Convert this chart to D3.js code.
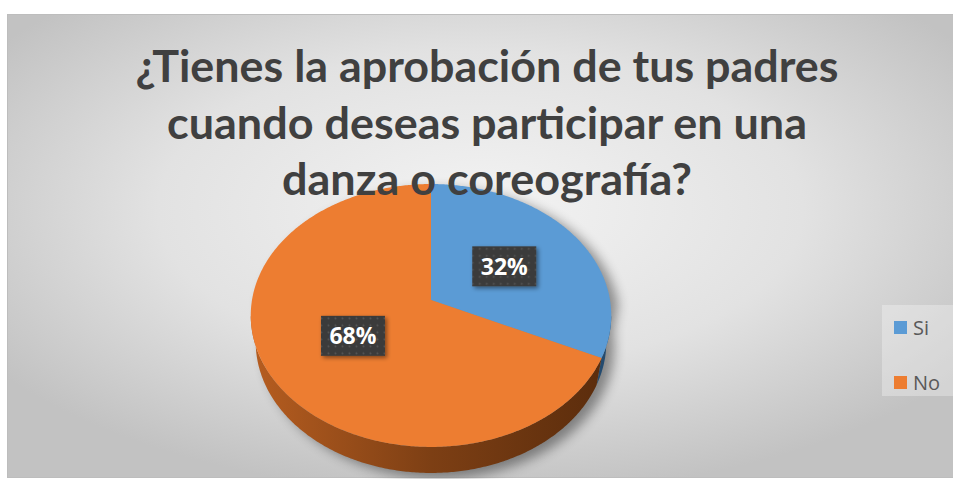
<!DOCTYPE html>
<html>
<head>
<meta charset="utf-8">
<script src="https://cdn.jsdelivr.net/npm/d3@7"></script>
<style>
  body { margin: 0; background: #fff; }
  svg { display: block; }
</style>
</head>
<body>
<div id="chart"></div>
<script>
// data
var labels = ["Si", "No"];
var values = [32, 68];
var colors = ["#5b9bd5", "#ed7d31"];
var wallColors = [["#3d6f9e", "#2c5880", "#234a6e"], ["#b65d20", "#7d3f14", "#5a2c0c"]];
var titleLines = ["¿Tienes la aprobación de tus padres", "cuando deseas participar en una", "danza o coreografía?"];
var titleWidths = [703, 640, 410];

var width = 953;
var height = 479;

// pie placement (perspective tilted disk)
var cx = 431, cy = 300;
var halfW = 179;
var k = 0.1707;
var tilt = 46.4 * Math.PI / 180;
var thick = 0.225;
var sa = Math.sin(tilt), ca = Math.cos(tilt);
var F = halfW / k;

function project(phi, rad, down) {
    var x = rad * Math.sin(phi), z = rad * Math.cos(phi);
    var yUp = -thick * down;
    var yc = yUp * ca + z * sa;
    var depth = 1 / k + z * ca - yUp * sa;
    return [cx + F * x / depth, cy - F * yc / depth];
}

function arcPts(a0, a1, down) {
    var n = Math.max(2, Math.ceil((a1 - a0) / 0.01));
    return d3.range(n + 1).map(function(i) {
        return project(a0 + (a1 - a0) * i / n, 1, down);
    });
}

var svg = d3.select("#chart").append("svg")
    .attr("width", width)
    .attr("height", height);

var defs = svg.append("defs");

var bg = defs.append("radialGradient").attr("id", "bg")
    .attr("cx", "50%").attr("cy", "42%").attr("r", "62%");
bg.append("stop").attr("offset", "0").attr("stop-color", "#f3f3f3");
bg.append("stop").attr("offset", "0.55").attr("stop-color", "#e2e2e2");
bg.append("stop").attr("offset", "1").attr("stop-color", "#c2c2c2");

wallColors.forEach(function(c, i) {
    var g = defs.append("linearGradient").attr("id", "wall" + i)
        .attr("gradientUnits", "userSpaceOnUse")
        .attr("x1", cx - halfW).attr("x2", cx + halfW).attr("y1", 0).attr("y2", 0);
    g.append("stop").attr("offset", "0").attr("stop-color", c[0]);
    g.append("stop").attr("offset", "0.5").attr("stop-color", c[1]);
    g.append("stop").attr("offset", "1").attr("stop-color", c[2]);
});

var blur = defs.append("filter").attr("id", "pieShadow")
    .attr("x", "-20%").attr("y", "-20%").attr("width", "140%").attr("height", "140%");
blur.append("feGaussianBlur").attr("stdDeviation", 6);

var boxShadow = defs.append("filter").attr("id", "boxShadow")
    .attr("x", "-30%").attr("y", "-30%").attr("width", "160%").attr("height", "160%");
boxShadow.append("feDropShadow").attr("dx", 2).attr("dy", 2)
    .attr("stdDeviation", 2).attr("flood-color", "#000").attr("flood-opacity", 0.45);

var dots = defs.append("pattern").attr("id", "dots")
    .attr("patternUnits", "userSpaceOnUse").attr("width", 7).attr("height", 7);
dots.append("rect").attr("width", 7).attr("height", 7).attr("fill", "#3b3b3b");
dots.append("circle").attr("cx", 3.5).attr("cy", 3.5).attr("r", 1).attr("fill", "#555");

// chart area
svg.append("rect")
    .attr("x", 7.5).attr("y", 14.5)
    .attr("width", width - 7).attr("height", height - 16)
    .attr("fill", "url(#bg)")
    .attr("stroke", "#bdbdbd");

var line = d3.line();

var slices = d3.pie().sort(null)(values);

// shadow of the whole pie
var outline = arcPts(0, Math.PI / 2, 0)
    .concat(arcPts(Math.PI / 2, 3 * Math.PI / 2, 1))
    .concat(arcPts(3 * Math.PI / 2, 2 * Math.PI, 0));
svg.append("path")
    .attr("d", line(outline) + "Z")
    .attr("transform", "translate(8,5)")
    .attr("fill", "#000")
    .attr("opacity", 0.4)
    .attr("filter", "url(#pieShadow)");

// side walls (front part only)
var sil = Math.acos(-k * ca);
slices.forEach(function(s, i) {
    var a0 = Math.max(s.startAngle, sil);
    var a1 = Math.min(s.endAngle, 2 * Math.PI - sil);
    if (a1 <= a0) return;
    var pts = arcPts(a0, a1, 0).concat(arcPts(a0, a1, 1).reverse());
    svg.append("path")
        .attr("d", line(pts) + "Z")
        .attr("fill", "url(#wall" + i + ")");
});

// top faces
slices.forEach(function(s, i) {
    var pts = [project(0, 0, 0)].concat(arcPts(s.startAngle, s.endAngle, 0));
    svg.append("path")
        .attr("d", line(pts) + "Z")
        .attr("fill", colors[i]);
});

// data labels
var total = d3.sum(values);
slices.forEach(function(s, i) {
    var mid = (s.startAngle + s.endAngle) / 2;
    var p = project(mid, 0.5, 0);
    var g = svg.append("g").attr("transform", "translate(" + p[0] + "," + p[1] + ")");
    var box = g.append("rect").attr("fill", "url(#dots)").attr("filter", "url(#boxShadow)");
    var t = g.append("text")
        .attr("text-anchor", "middle")
        .attr("dy", "0.36em")
        .attr("font-family", "'Open Sans', sans-serif")
        .attr("font-weight", 700)
        .attr("font-size", 23)
        .attr("fill", "#fff")
        .text(Math.round(values[i] / total * 100) + "%");
    var w = t.node().getComputedTextLength() + 17;
    box.attr("x", -w / 2).attr("y", -20).attr("width", w).attr("height", 40);
});

// title
svg.append("g").selectAll("text")
    .data(titleLines)
    .join("text")
    .attr("x", 487)
    .attr("y", function(d, i) { return 82 + i * 56.5; })
    .attr("text-anchor", "middle")
    .attr("font-family", "Lato, 'Open Sans', sans-serif")
    .attr("font-weight", 700)
    .attr("font-size", 43)
    .attr("textLength", function(d, i) { return titleWidths[i]; })
    .attr("lengthAdjust", "spacingAndGlyphs")
    .attr("fill", "#404040")
    .text(function(d) { return d; });

// legend
var legend = svg.append("g");
legend.append("rect")
    .attr("x", 882).attr("y", 305).attr("width", 71).attr("height", 91)
    .attr("fill", "#fff").attr("opacity", 0.3);
var item = legend.selectAll("g.item")
    .data(labels)
    .join("g")
    .attr("class", "item")
    .attr("transform", function(d, i) { return "translate(894," + (321 + i * 55) + ")"; });
item.append("rect")
    .attr("width", 13).attr("height", 13)
    .attr("fill", function(d, i) { return colors[i]; });
item.append("text")
    .attr("x", 19).attr("y", 14)
    .attr("font-family", "'Open Sans', sans-serif")
    .attr("font-size", 20)
    .attr("fill", "#595959")
    .text(function(d) { return d; });
</script>
</body>
</html>
